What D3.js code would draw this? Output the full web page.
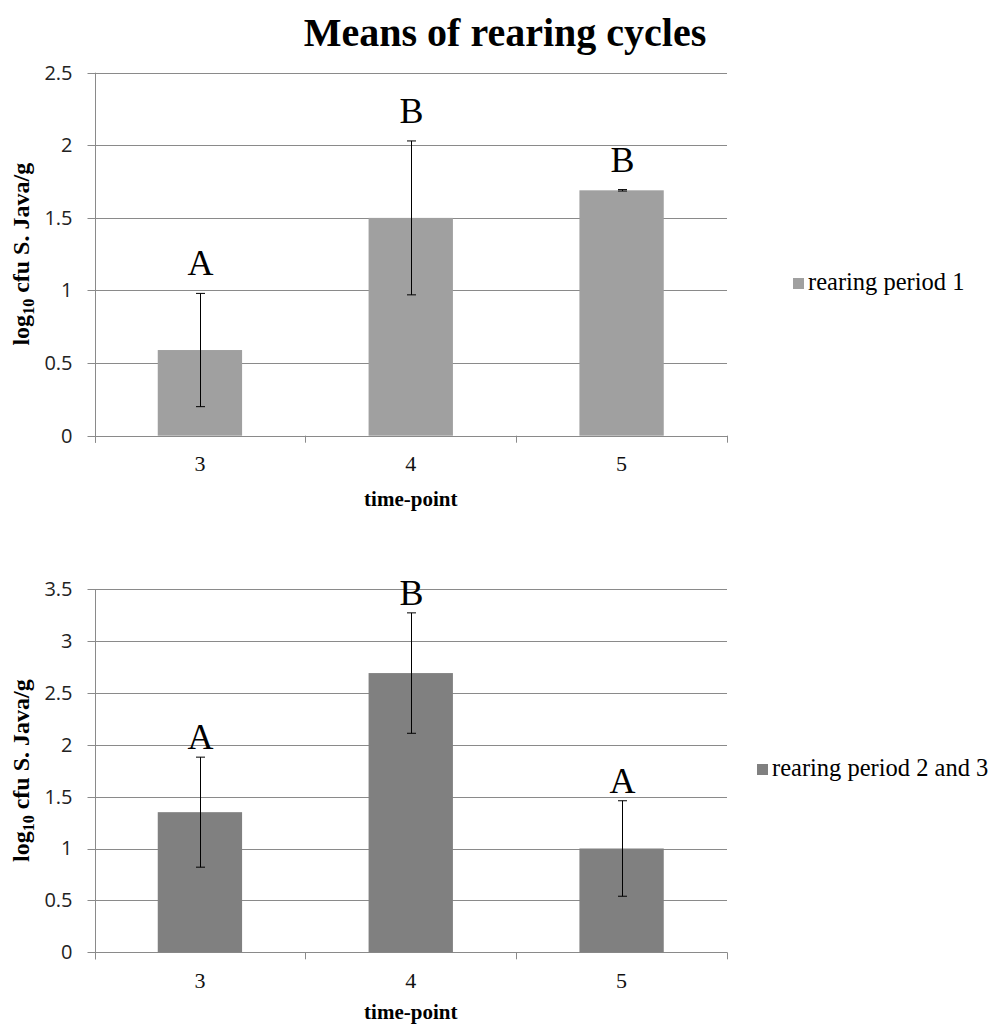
<!DOCTYPE html>
<html>
<head>
<meta charset="utf-8">
<script src="https://cdn.jsdelivr.net/npm/d3@7"></script>
<style>
  body { margin: 0; background: white; }
</style>
</head>
<body>
<div id="visualization"></div>
<script>
let w = 995;
let h = 1025;

// data
let timePoints = ["3", "4", "5"];

let period1Means = [0.59, 1.50, 1.69];
let period1Err = [0.39, 0.53, 0.005];
let period1Letters = ["A", "B", "B"];
let period1Ticks = [0, 0.5, 1, 1.5, 2, 2.5];

let period23Means = [1.35, 2.69, 1.00];
let period23Err = [0.53, 0.58, 0.46];
let period23Letters = ["A", "B", "A"];
let period23Ticks = [0, 0.5, 1, 1.5, 2, 2.5, 3, 3.5];

let serif = "'Liberation Serif', 'Times New Roman', serif";
let sans = "'Open Sans', 'Noto Sans', sans-serif";
let gridColor = "#8a8a8a";

let viz = d3.select("#visualization")
    .append("svg")
  .attr("width", w)
  .attr("height", h)
  .style("background-color", "white")
;

// title
viz.append("text")
  .attr("x", 505)
  .attr("y", 46)
  .attr("text-anchor", "middle")
  .style("font-family", serif)
  .style("font-weight", "bold")
  .style("font-size", "40px")
  .text("Means of rearing cycles")
;

function drawPanel(opts){
  let left = 94.5, right = 727;

  let xScale = d3.scaleBand()
    .domain(timePoints)
    .range([left, right])
    .paddingInner(0.6)
    .paddingOuter(0.3)
  ;
  let yScale = d3.scaleLinear()
    .domain([0, opts.max])
    .range([opts.bottom, opts.top])
  ;

  let g = viz.append("g");

  // gridlines (the 0 one is the x axis line)
  g.selectAll(".grid").data(opts.ticks).enter()
    .append("line")
    .attr("class", "grid")
    .attr("x1", left - 7)
    .attr("x2", right)
    .attr("y1", d => Math.round(yScale(d)) + 0.5)
    .attr("y2", d => Math.round(yScale(d)) + 0.5)
    .attr("stroke", gridColor)
    .attr("stroke-width", 1)
  ;

  // y axis line
  g.append("line")
    .attr("x1", Math.round(left) + 0.5)
    .attr("x2", Math.round(left) + 0.5)
    .attr("y1", yScale(opts.max))
    .attr("y2", yScale(0) + 7)
    .attr("stroke", gridColor)
  ;

  // y tick labels
  let yAxis = d3.axisLeft(yScale)
    .tickValues(opts.ticks)
    .tickSize(0)
    .tickPadding(22)
    .tickFormat(d3.format("~g"))
  ;
  let yAxisGroup = g.append("g")
    .attr("transform", "translate(" + left + ",0)")
    .call(yAxis)
    .attr("font-family", sans)
    .attr("font-size", 20)
  ;
  yAxisGroup.select(".domain").remove();
  yAxisGroup.selectAll("text")
    .attr("fill", "#222")
  ;

  // x ticks between categories
  let step = xScale.step();
  let boundaries = d3.range(timePoints.length + 1).map(i => left + i * step);
  g.selectAll(".xtick").data(boundaries).enter()
    .append("line")
    .attr("x1", d => Math.round(d) + 0.5)
    .attr("x2", d => Math.round(d) + 0.5)
    .attr("y1", yScale(0))
    .attr("y2", yScale(0) + 7)
    .attr("stroke", gridColor)
  ;

  // x tick labels
  let xAxis = d3.axisBottom(xScale).tickSize(0).tickPadding(20);
  let xAxisGroup = g.append("g")
    .attr("transform", "translate(0," + yScale(0) + ")")
    .call(xAxis)
  ;
  xAxisGroup.select(".domain").remove();
  xAxisGroup.selectAll("text")
    .style("font-family", serif)
    .style("font-size", "22px")
    .attr("fill", "#111")
  ;

  // bars
  g.selectAll(".bar").data(opts.means).enter()
    .append("rect")
    .attr("class", "bar")
    .attr("x", (d, i) => xScale(timePoints[i]))
    .attr("width", xScale.bandwidth())
    .attr("y", d => yScale(d))
    .attr("height", d => yScale(0) - yScale(d))
    .attr("fill", opts.color)
  ;

  // error bars
  let cx = i => Math.round(xScale(timePoints[i]) + xScale.bandwidth() / 2) + 0.5;
  let errs = opts.means.map((m, i) => ({i: i, lo: m - opts.err[i], hi: m + opts.err[i]}));
  let eb = g.selectAll(".err").data(errs).enter().append("g");
  eb.append("line")
    .attr("x1", d => cx(d.i)).attr("x2", d => cx(d.i))
    .attr("y1", d => yScale(d.lo)).attr("y2", d => yScale(d.hi))
    .attr("stroke", "black")
  ;
  eb.append("line")
    .attr("x1", d => cx(d.i) - 4.5).attr("x2", d => cx(d.i) + 4.5)
    .attr("y1", d => yScale(d.lo)).attr("y2", d => yScale(d.lo))
    .attr("stroke", "black")
  ;
  eb.append("line")
    .attr("x1", d => cx(d.i) - 4.5).attr("x2", d => cx(d.i) + 4.5)
    .attr("y1", d => yScale(d.hi)).attr("y2", d => yScale(d.hi))
    .attr("stroke", "black")
  ;

  // significance letters
  g.selectAll(".letter").data(errs).enter()
    .append("text")
    .attr("x", d => cx(d.i))
    .attr("y", d => yScale(d.hi) - opts.letterGap)
    .attr("text-anchor", "middle")
    .style("font-family", serif)
    .style("font-size", "36px")
    .text(d => opts.letters[d.i])
  ;

  // axis titles
  g.append("text")
    .attr("x", (left + right) / 2)
    .attr("y", Math.min(yScale(0) + 70, h - 6))
    .attr("text-anchor", "middle")
    .style("font-family", serif)
    .style("font-weight", "bold")
    .style("font-size", "21px")
    .text("time-point")
  ;

  let ylab = g.append("text")
    .attr("transform", "translate(29," + (opts.top + opts.bottom) / 2 + ") rotate(-90)")
    .attr("text-anchor", "middle")
    .style("font-family", serif)
    .style("font-weight", "bold")
    .style("font-size", "24px")
  ;
  ylab.append("tspan").text("log");
  ylab.append("tspan").attr("dy", 5).style("font-size", "16px").text("10");
  ylab.append("tspan").attr("dy", -5).text(" cfu S. Java/g");

  // legend
  g.append("rect")
    .attr("x", opts.legendX)
    .attr("y", opts.legendY - 11)
    .attr("width", 11)
    .attr("height", 11)
    .attr("fill", opts.color)
  ;
  g.append("text")
    .attr("x", opts.legendX + 15)
    .attr("y", opts.legendY + 1)
    .style("font-family", serif)
    .style("font-size", "24.5px")
    .text(opts.legend)
  ;
}

drawPanel({
  means: period1Means, err: period1Err, letters: period1Letters, ticks: period1Ticks,
  max: 2.5, top: 72.7, bottom: 435.7, color: "#a0a0a0", letterGap: 18,
  legend: "rearing period 1", legendX: 793, legendY: 289
});

drawPanel({
  means: period23Means, err: period23Err, letters: period23Letters, ticks: period23Ticks,
  max: 3.5, top: 589, bottom: 952.3, color: "#808080", letterGap: 8,
  legend: "rearing period 2 and 3", legendX: 757, legendY: 775
});
</script>
</body>
</html>
